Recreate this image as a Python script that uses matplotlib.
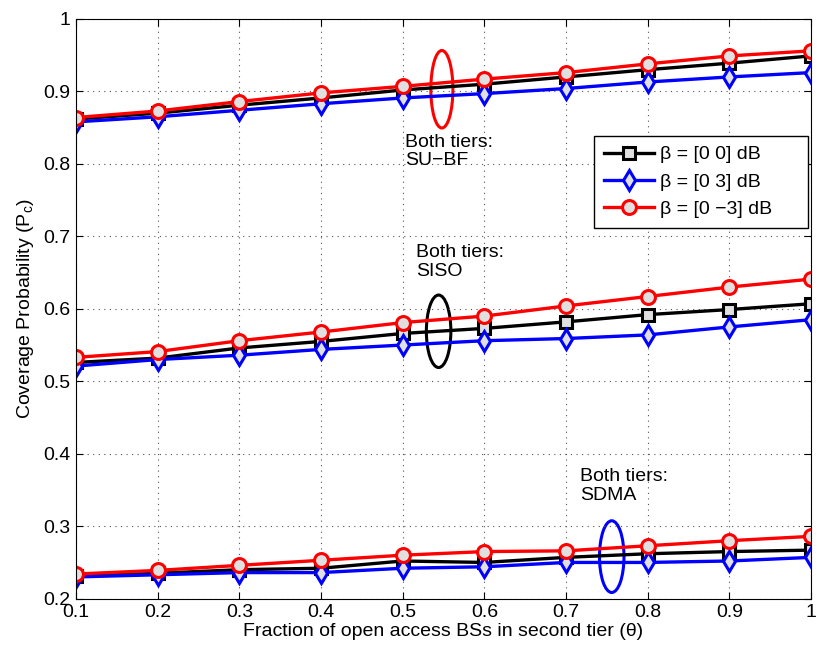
import numpy as np
import matplotlib
matplotlib.use("Agg")
import matplotlib.pyplot as plt
from matplotlib.patches import Ellipse

plt.rcParams['font.family'] = ['Liberation Sans', 'DejaVu Sans']

theta = [0.1, 0.2, 0.3, 0.4, 0.5, 0.6, 0.7, 0.8, 0.9, 1.0]

# SU-BF (top group)
subf_00 = [0.862, 0.870, 0.881, 0.891, 0.902, 0.910, 0.920, 0.930, 0.939, 0.949]
subf_03 = [0.858, 0.865, 0.874, 0.883, 0.891, 0.897, 0.904, 0.913, 0.920, 0.926]
subf_0m3 = [0.864, 0.873, 0.886, 0.898, 0.907, 0.917, 0.926, 0.938, 0.949, 0.956]

# SISO (middle group)
siso_00 = [0.526, 0.532, 0.546, 0.555, 0.566, 0.573, 0.582, 0.592, 0.599, 0.607]
siso_03 = [0.521, 0.530, 0.536, 0.544, 0.550, 0.556, 0.559, 0.564, 0.575, 0.585]
siso_0m3 = [0.533, 0.541, 0.556, 0.568, 0.581, 0.590, 0.604, 0.617, 0.630, 0.641]

# SDMA (bottom group)
sdma_00 = [0.231, 0.235, 0.240, 0.242, 0.252, 0.250, 0.257, 0.262, 0.265, 0.267]
sdma_03 = [0.230, 0.233, 0.236, 0.236, 0.242, 0.244, 0.250, 0.250, 0.252, 0.257]
sdma_0m3 = [0.234, 0.239, 0.246, 0.253, 0.260, 0.265, 0.266, 0.273, 0.280, 0.286]

labels = ['β = [0 0] dB', 'β = [0 3] dB', 'β = [0 −3] dB']
colors = ['black', 'blue', 'red']
markers = ['s', 'd', 'o']
msizes = [8, 10, 10]

fig = plt.figure(figsize=(8.3, 6.54), dpi=100)
ax = fig.add_axes([0.0916, 0.0846, 0.8855, 0.8864])

groups = [(subf_00, subf_03, subf_0m3), (siso_00, siso_03, siso_0m3), (sdma_00, sdma_03, sdma_0m3)]
for g in groups:
    for i, ys in enumerate(g):
        ax.plot(theta, ys, color=colors[i], marker=markers[i], markersize=msizes[i],
                markerfacecolor='#e0e0e0', markeredgecolor=colors[i], markeredgewidth=2.2,
                linewidth=2.4, label=labels[i] if g is groups[0] else None)

# ellipses grouping the curves
ax.add_patch(Ellipse((0.548, 0.903), 0.027, 0.107, fill=False, edgecolor='red', linewidth=2.2))
ax.add_patch(Ellipse((0.544, 0.569), 0.030, 0.100, fill=False, edgecolor='black', linewidth=2.2))
ax.add_patch(Ellipse((0.756, 0.258), 0.030, 0.099, fill=False, edgecolor='blue', linewidth=2.2))

ax.text(0.503, 0.841, 'Both tiers:\nSU−BF', fontsize=14, va='top', ha='left', linespacing=1.1)
ax.text(0.516, 0.689, 'Both tiers:\nSISO', fontsize=14, va='top', ha='left', linespacing=1.1)
ax.text(0.717, 0.380, 'Both tiers:\nSDMA', fontsize=14, va='top', ha='left', linespacing=1.1)

ax.set_xlim(0.1, 1.0)
ax.set_ylim(0.2, 1.0)
ax.set_xticks(theta)
ax.set_xticklabels(['0.1', '0.2', '0.3', '0.4', '0.5', '0.6', '0.7', '0.8', '0.9', '1'])
ax.set_yticks([0.2, 0.3, 0.4, 0.5, 0.6, 0.7, 0.8, 0.9, 1.0])
ax.set_yticklabels(['0.2', '0.3', '0.4', '0.5', '0.6', '0.7', '0.8', '0.9', '1'])
ax.tick_params(direction='in', labelsize=14, length=5, top=True, right=True, pad=4)
ax.grid(True, linestyle=(0, (1, 4)), color='#555555', linewidth=0.8)

ax.set_xlabel('Fraction of open access BSs in second tier (θ)', fontsize=14, labelpad=1)
ax.set_ylabel('Coverage Probability (P$_\\mathregular{c}$)', fontsize=14, labelpad=5)

# legend box stretched to the width it has in the reference
leg = ax.legend(loc='upper left', bbox_to_anchor=(0.705, 0.0, 0.291, 0.798), mode='expand',
                borderaxespad=0, fontsize=14, fancybox=False, edgecolor='black', framealpha=1,
                handlelength=2.6, borderpad=0.5, labelspacing=0.5, handletextpad=0.3)
leg.get_frame().set_linewidth(1.0)

fig.savefig('out.png', dpi=100)
